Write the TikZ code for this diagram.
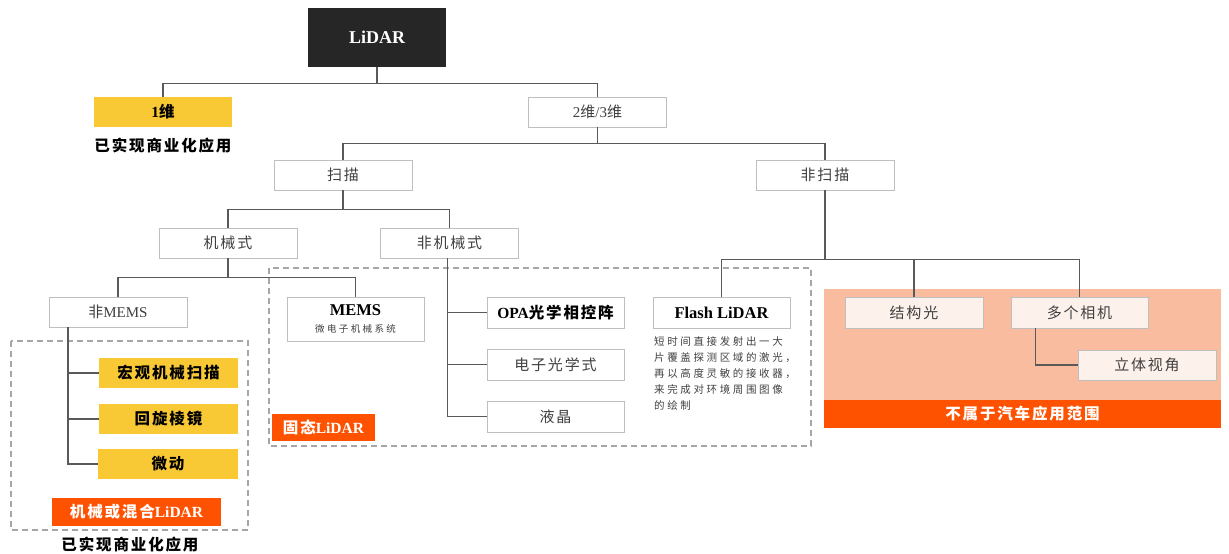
\documentclass[tikz,border=0pt]{standalone}
\usepackage{fontspec}
\setmainfont{Liberation Serif}
\newfontfamily\cjk{Noto Sans CJK SC}
\newfontfamily\cjksp[LetterSpace=12]{Noto Sans CJK SC}
\newfontfamily\cjkwide[LetterSpace=25]{Noto Sans CJK SC}
\newcommand\en[1]{{\rmfamily #1}}
\newcommand\fsz[2]{\fontsize{#1}{#2}\selectfont}
\definecolor{boxgray}{HTML}{BFBFBF}
\definecolor{txtgray}{HTML}{404040}
\definecolor{linegray}{HTML}{595959}
\definecolor{dashgray}{HTML}{A6A6A6}
\definecolor{yel}{HTML}{F9C935}
\definecolor{org}{HTML}{FF5200}
\definecolor{peach}{HTML}{F9BC9E}
\definecolor{pinkbox}{HTML}{FDF1EB}
\definecolor{darkbox}{HTML}{262626}
\tikzset{
  wbox/.style={draw=boxgray, line width=0.9pt, fill=white, minimum width=138, minimum height=30, inner sep=0pt, text=txtgray, font=\cjksp\fsz{15}{18}},
  pbox/.style={wbox, fill=pinkbox},
  ybox/.style={fill=yel, minimum width=139, minimum height=30, inner sep=0pt, text=black, font=\cjksp\bfseries\fsz{15.5}{18}},
  obox/.style={fill=org, inner sep=0pt, text=white, font=\cjksp\bfseries\fsz{15.5}{18}},
  conn/.style={draw=linegray, line width=1.2pt},
  dashbox/.style={draw=dashgray, line width=1.3pt, dash pattern=on 6pt off 4pt},
  note/.style={inner sep=0pt, text=black, font=\cjksp\bfseries\fsz{15.5}{18}}
}
\begin{document}
\begin{tikzpicture}[x=1pt,y=-1pt]
\useasboundingbox (0,0) rectangle (1229,554);
% background regions
\fill[peach] (824,289) rectangle (1221,400);
\draw[dashbox] (11,341) rectangle (248,530);
\draw[dashbox] (269,268) rectangle (811,446);
% nodes
\node[fill=darkbox, minimum width=138, minimum height=59, inner sep=0pt, text=white, font=\bfseries\fsz{18}{20}] (lidar) at (377,37.5) {LiDAR};
\node[ybox, minimum width=138] (d1) at (163,112) {\en{1}维};
\node[note] (note1) at (163,146) {已实现商业化应用};
\node[wbox] (d23) at (597.5,112) {\en{2}维\en{/3}维};
\node[wbox] (scan) at (343,175) {扫描};
\node[wbox] (nscan) at (825,175) {非扫描};
\node[wbox] (mech) at (228,243) {机械式};
\node[wbox] (nmech) at (449.5,243) {非机械式};
\node[wbox] (nmems) at (118,312) {非\en{MEMS}};
\node[wbox, minimum width=137, minimum height=44, align=center] (mems) at (355.5,319)
  {{\rmfamily\bfseries\color{black}\fsz{16.5}{17}MEMS}\\[-1pt]{\cjkwide\fsz{9.5}{12}微电子机械系统}};
\node[wbox, minimum width=137, minimum height=31, text=black, font=\cjksp\bfseries\fsz{15.5}{18}] (opa) at (555.5,312.5) {\en{OPA}光学相控阵};
\node[wbox, minimum width=137, minimum height=31] (eo) at (555.5,364.5) {电子光学式};
\node[wbox, minimum width=137, minimum height=31] (lc) at (555.5,416.5) {液晶};
\node[wbox, minimum width=137, minimum height=31, text=black, font=\bfseries\fsz{16.5}{18}] (flash) at (721.5,312.5) {Flash LiDAR};
\node[anchor=north west, inner sep=0pt, align=left, text=txtgray, font=\cjkwide\fsz{10.5}{16}] (fdesc) at (654,336)
  {短时间直接发射出一大\\片覆盖探测区域的激光，\\再以高度灵敏的接收器，\\来完成对环境周围图像\\的绘制};
\node[pbox, minimum width=138, minimum height=31] (struct) at (914,312.5) {结构光};
\node[pbox, minimum width=137, minimum height=31] (multi) at (1079.5,312.5) {多个相机};
\node[pbox, minimum width=138, minimum height=30] (stereo) at (1147,365) {立体视角};
\node[obox, minimum width=397, minimum height=28] (nonauto) at (1022.5,414) {不属于汽车应用范围};
\node[ybox] (macro) at (168.5,373) {宏观机械扫描};
\node[ybox] (prism) at (168.5,419) {回旋棱镜};
\node[ybox, minimum width=140] (micro) at (168,464) {微动};
\node[obox, minimum width=169, minimum height=28] (hyb) at (136.5,512) {机械或混合\en{LiDAR}};
\node[obox, minimum width=103, minimum height=27] (solid) at (323.5,427.5) {固态\en{LiDAR}};
\node[note] (note2) at (130,545) {已实现商业化应用};
% connectors
\draw[conn] (lidar.south) -- ++(0,16) -| (d1.north);
\draw[conn] (lidar.south) -- ++(0,16) -| (d23.north);
\draw[conn] (d23.south) -- ++(0,16) -| (scan.north);
\draw[conn] (d23.south) -- ++(0,16) -| (nscan.north);
\draw[conn] (scan.south) -- ++(0,19) -| (mech.north);
\draw[conn] (scan.south) -- ++(0,19) -| (nmech.north);
\draw[conn] (mech.south) -- ++(0,19) -| (nmems.north);
\draw[conn] (mech.south) -- ++(0,19) -| (mems.north);
\draw[conn] ([xshift=-50pt]nmems.south) |- (macro.west);
\draw[conn] ([xshift=-50pt]nmems.south) |- (prism.west);
\draw[conn] ([xshift=-50pt]nmems.south) |- (micro.west);
\draw[conn] ([xshift=-2pt]nmech.south) |- (opa.west);
\draw[conn] ([xshift=-2pt]nmech.south) |- (eo.west);
\draw[conn] ([xshift=-2pt]nmech.south) |- (lc.west);
\draw[conn] (nscan.south) -- ++(0,69) -| (flash.north);
\draw[conn] (nscan.south) -- ++(0,69) -| (struct.north);
\draw[conn] (nscan.south) -- ++(0,69) -| (multi.north);
\draw[conn] ([xshift=-44pt]multi.south) |- (stereo.west);
\end{tikzpicture}
\end{document}
